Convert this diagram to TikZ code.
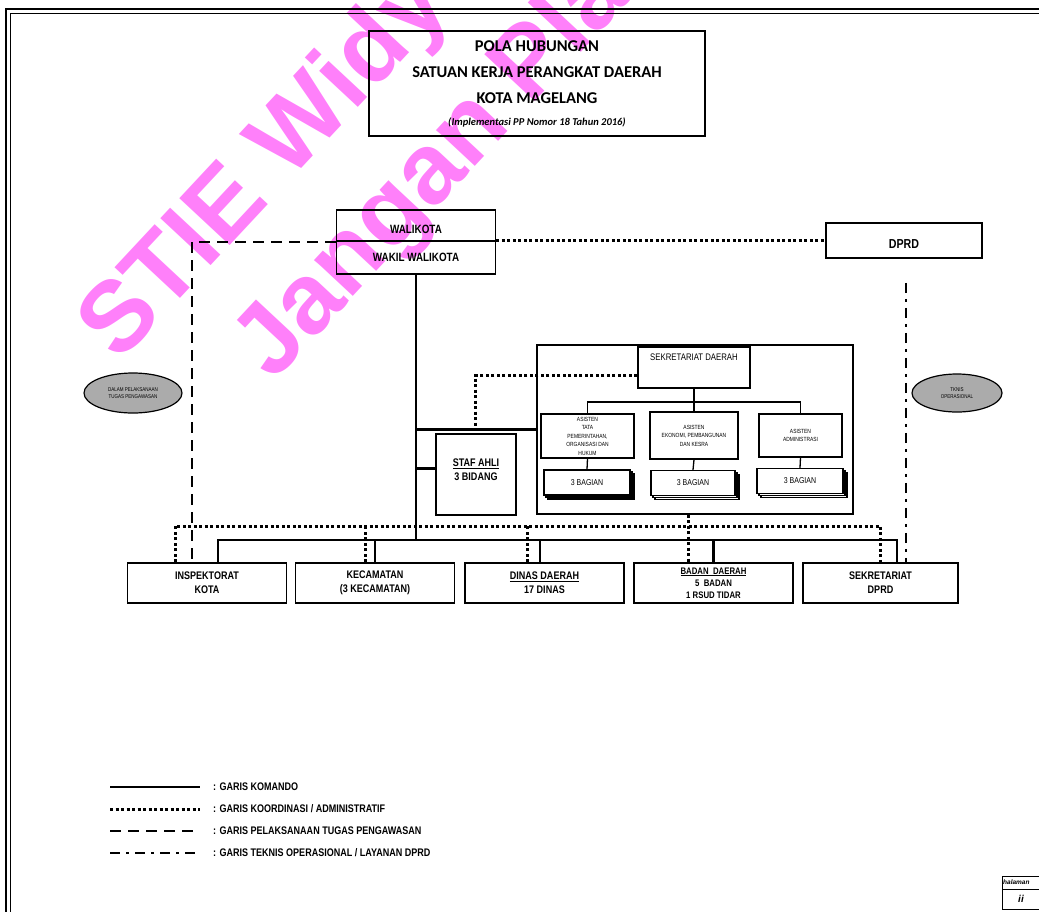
\documentclass[tikz,border=0pt]{standalone}
\usepackage{fontspec}
\setmainfont{Liberation Sans}
\newfontfamily\narrowfont{Liberation Sans}[FakeStretch=0.82]
\newfontfamily\titlefont{Carlito}
\usetikzlibrary{shapes.geometric,shadows}
\definecolor{wmpink}{RGB}{255,128,250}

\tikzset{
  box/.style={draw, line width=1.6pt, rectangle, inner sep=0pt, align=center, font=\narrowfont\bfseries},
  unitbox/.style={box, minimum width=159pt, minimum height=40pt, font=\narrowfont\bfseries\fontsize{11}{14}\selectfont},
  oval/.style={ellipse, draw, line width=1.2pt, fill=black!33, inner sep=0pt, align=center, font=\narrowfont\fontsize{5.5}{7}\selectfont},
  asisten/.style={draw, line width=1.3pt, inner sep=0pt, align=center, font=\narrowfont\fontsize{6}{8.5}\selectfont},
  bagian/.style={draw, line width=1.3pt, fill=white, minimum height=25pt, inner sep=0pt, font=\narrowfont\fontsize{8.5}{10}\selectfont, double copy shadow={shadow xshift=2pt, shadow yshift=-2pt}},
  ket/.style={inner sep=0pt, font=\narrowfont\bfseries\fontsize{11}{12}\selectfont},
  wm/.style={rotate=47, text=wmpink, inner sep=0pt, font=\bfseries\fontsize{100}{100}\selectfont},
  komando/.style={line width=2.4pt},
  koordinasi/.style={line width=3pt, dash pattern=on 3pt off 2.5pt},
  pengawasan/.style={line width=2.4pt, dash pattern=on 11pt off 7pt},
  teknis/.style={line width=2.6pt, dash pattern=on 10pt off 6pt on 3pt off 6pt},
  tree/.style={line width=1.3pt}
}

\begin{document}
\begin{tikzpicture}[x=1pt, y=-1pt]
\useasboundingbox (0,0) rectangle (1039,911);
\clip (0,0) rectangle (1039,911);

% watermark
\node[wm, anchor=base west] (wm1) at (119,364) {STIE Widya Wiwaha};
\node[wm, anchor=base west] (wm2) at (273,383) {Jangan Plagiat};

% frame
\draw[line width=1.5pt] (6,915) -- (6,9) -- (1045,9);
\draw[line width=0.9pt] (10,915) -- (10,13) -- (1045,13);

% title
\node[box, minimum width=336pt, minimum height=105pt, font=\titlefont\bfseries\fontsize{16.5}{26}\selectfont] (judul) at (537,83.5)
  {POLA HUBUNGAN\\SATUAN KERJA PERANGKAT DAERAH\\KOTA MAGELANG\\[-4pt]{\fontsize{10.5}{12}\selectfont\itshape (Implementasi PP Nomor 18 Tahun 2016)}};

% top level
\node[box, minimum width=159pt, minimum height=31pt,
  label={[font=\narrowfont\bfseries\fontsize{12}{14}\selectfont, yshift=-4pt]center:WALIKOTA}] (walikota) at (416,225.5) {};
\node[box, minimum width=159pt, minimum height=33pt, font=\narrowfont\bfseries\fontsize{12}{14}\selectfont] (wakil) at (416,257.5) {WAKIL WALIKOTA};
\node[box, minimum width=156pt, minimum height=35pt,
  label={[font=\narrowfont\bfseries\fontsize{13}{14}\selectfont, yshift=-4pt]center:DPRD}] (dprd) at (904,240.5) {};

\node[oval, minimum width=98pt, minimum height=40pt] (kiri) at (133,393) {DALAM PELAKSANAAN\\TUGAS PENGAWASAN};
\node[oval, minimum width=90pt, minimum height=38pt] (kanan) at (957,393) {TKNIS\\OPERASIONAL};

% sekretariat daerah
\node[draw, line width=1.3pt, minimum width=316pt, minimum height=169pt] (setda) at (695,429.5) {};
\node[draw, line width=1.3pt, minimum width=112pt, minimum height=41pt,
  label={[font=\narrowfont\fontsize{9.5}{11}\selectfont, anchor=north, inner sep=0pt, yshift=-7pt]north:SEKRETARIAT DAERAH}] (sekda) at (694,367.5) {};

\node[asisten, minimum width=93pt, minimum height=44pt] (as1) at (587.5,436) {ASISTEN\\TATA\\PEMERINTAHAN,\\ORGANISASI DAN\\HUKUM};
\node[asisten, minimum width=88pt, minimum height=47pt] (as2) at (694,435.5) {ASISTEN\\EKONOMI, PEMBANGUNAN\\DAN KESRA};
\node[asisten, minimum width=83pt, minimum height=43pt] (as3) at (800.5,435.5) {ASISTEN\\ADMINISTRASI};

\node[bagian, minimum width=86pt] (bag1) at (587,482.5) {3 BAGIAN};
\node[bagian, minimum width=84pt] (bag2) at (693,483) {3 BAGIAN};
\node[bagian, minimum width=86pt] (bag3) at (800,481) {3 BAGIAN};

\node[box, minimum width=80pt, minimum height=81pt,
  label={[align=center, font=\narrowfont\bfseries\fontsize{11}{14}\selectfont, yshift=5pt]center:{\underline{STAF AHLI}\\3 BIDANG}}] (stafahli) at (476,474.5) {};

% units
\node[unitbox] (insp) at (207,583) {INSPEKTORAT\\KOTA};
\node[unitbox] (kec) at (375,583) {KECAMATAN\\(3 KECAMATAN)};
\node[unitbox] (dinas) at (544.5,583) {\underline{DINAS DAERAH}\\17 DINAS};
\node[unitbox, font=\narrowfont\bfseries\fontsize{9.5}{12}\selectfont] (badan) at (713.5,583) {\underline{BADAN\ \ DAERAH}\\5\ \ BADAN\\1 RSUD TIDAR};
\node[unitbox, minimum width=155pt] (sekdprd) at (880.5,583) {SEKRETARIAT\\DPRD};

\coordinate (bus) at (0,540);
\coordinate (dbus) at (0,526);

% garis komando
\draw[komando] (wakil.south) -- (wakil.south |- bus);
\draw[komando] ([xshift=11pt]insp.north) |- ([xshift=16.5pt]sekdprd.north |- bus) -- ([xshift=16.5pt]sekdprd.north);
\foreach \n/\dx in {kec/0, dinas/-4.5, badan/0}
  \draw[komando] ([xshift=\dx pt]\n.north) -- ([xshift=\dx pt]\n.north |- bus);
\draw[komando] (setda.west) -- (setda.west -| wakil.south);
\draw[komando] ([yshift=6pt]stafahli.west) -- ([yshift=6pt]stafahli.west -| wakil.south);

% dalam setda
\coordinate (sj) at (694,402);
\draw[tree] (sekda.south) -- (sj);
\draw[tree] (as1.north) |- (sj) -| (as3.north);
\draw[tree] (sj) -- (as2.north);
\foreach \i in {1,2,3}
  \draw[tree] (as\i.south) -- (bag\i.north);

% garis koordinasi
\draw[koordinasi] (wakil.north east) -- (wakil.north east -| dprd.west);
\draw[koordinasi] ([yshift=-8pt]sekda.west) -| ([xshift=-61pt]setda.west);
\draw[koordinasi] ([xshift=-32pt]insp.north) |- (sekdprd.north |- dbus) -- (sekdprd.north);
\foreach \n/\dx in {kec/-10, dinas/-17.5}
  \draw[koordinasi] ([xshift=\dx pt]\n.north) -- ([xshift=\dx pt]\n.north |- dbus);
\draw[koordinasi] ([xshift=-7pt]setda.south) -- ([xshift=-25.5pt]badan.north);

% pengawasan dan teknis
\draw[pengawasan] (walikota.south west) -| ([xshift=-15pt]insp.north);
\draw[teknis] ([xshift=2pt]dprd.south) ++(0,24) -- ([xshift=25.5pt]sekdprd.north);

% keterangan
\foreach \gaya/\teks [count=\i from 0] in {komando/{: GARIS KOMANDO}, koordinasi/{: GARIS KOORDINASI / ADMINISTRATIF}, pengawasan/{: GARIS PELAKSANAAN TUGAS PENGAWASAN}, teknis/{: GARIS TEKNIS OPERASIONAL / LAYANAN DPRD}} {
  \node[ket, anchor=west] (ket\i) at (213,787+22*\i) {\teks};
  \coordinate (garis\i) at (110,787+22*\i);
  \draw[\gaya] (garis\i) -- ([xshift=-13pt]ket\i.west);
}

% halaman
\node[draw, line width=1pt, minimum width=45pt, minimum height=33pt, anchor=north west] (hal) at (1002,876) {};
\draw[line width=1pt] ([yshift=3.5pt]hal.west) -- ([yshift=3.5pt]hal.east);
\node[anchor=west, inner sep=0pt, font=\bfseries\itshape\fontsize{6.5}{7}\selectfont] (halteks) at (1003,882.5) {halaman};
\node[inner sep=0pt, font=\bfseries\itshape\fontsize{10}{10}\selectfont] (halno) at (1021,899) {ii};
\end{tikzpicture}
\end{document}
